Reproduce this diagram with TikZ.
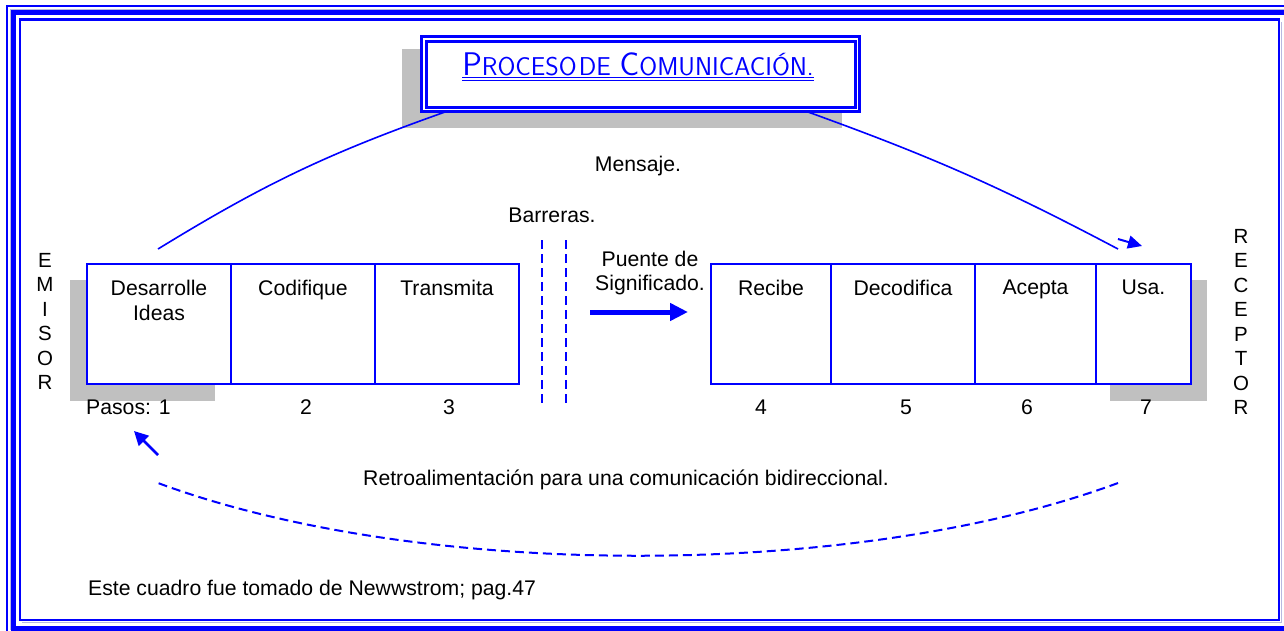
\documentclass[tikz,border=0pt]{standalone}
\usepackage{fontspec}
\setmainfont{Liberation Sans}
\usetikzlibrary{arrows.meta}
\definecolor{wblue}{HTML}{0000FF}
\definecolor{wgray}{HTML}{C0C0C0}
\definecolor{lgray}{HTML}{B8B8E0}
\newcommand\tbig[1]{{\fontsize{32.7}{32.7}\selectfont #1}}
\newcommand\tsml[1]{{\fontsize{25.8}{25.8}\selectfont #1}}
\begin{document}
\begin{tikzpicture}[x=1pt,y=-1pt,
  txt/.style={font=\fontsize{21.2}{24.5}\selectfont, inner sep=0pt, align=center},
  stepbox/.style={draw=wblue, line width=2pt, minimum height=120pt, inner sep=0pt, anchor=north west},
  shadowbox/.style={fill=wgray, draw=none, inner sep=0pt, anchor=north west},
  vlett/.style={font=\fontsize{20.5}{24.5}\selectfont, inner sep=0pt, align=center, anchor=north},
  dashline/.style={draw=wblue, line width=2pt, dash pattern=on 9pt off 5pt},
  conn/.style={draw=wblue, line width=1.6pt}
]
\useasboundingbox (0,0) rectangle (1284,630);
% page frame
\draw[wblue, line width=2.5pt] (7,6) rectangle (1300,645);
\draw[wblue, line width=5pt] (13,12.5) rectangle (1288,628);
\draw[wblue, line width=2.5pt] (20,19.5) rectangle (1279,620);
\draw[lgray, line width=1pt] (10,9.5) -- (1284,9.5);
\draw[lgray, line width=1pt] (10,9.5) -- (10,630);
\draw[lgray, line width=1pt] (1281.5,22) -- (1281.5,622.5) -- (22,622.5);

% title
\node[shadowbox, minimum width=440pt, minimum height=79pt] (tshadow) at (402,49) {};
\node[draw=wblue, fill=white, double=white, double distance=1.5pt, line width=3pt,
      minimum width=433.5pt, minimum height=70.5pt, inner sep=0pt, anchor=north west] (tbox) at (422.25,37.5) {};
\node[inner sep=0pt, anchor=base, text=wblue, font=\sffamily] (title) at (638,75)
  {\tbig{P}\tsml{ROCESO}\hspace{2pt}\tsml{DE}\hspace{9pt}\tbig{C}\tsml{OMUNICACIÓN.}};
\draw[wblue, line width=1pt] ([yshift=-2.5pt]title.base west) -- ([yshift=-2.5pt]title.base east);
\draw[wblue, line width=1pt] ([yshift=-5pt]title.base west) -- ([yshift=-5pt]title.base east);

% shadows
\node[shadowbox, minimum width=145pt, minimum height=121pt] (s1) at (70,280) {};
\node[shadowbox, minimum width=97pt, minimum height=121pt] (s7) at (1110,280) {};

% left boxes
\node[stepbox, minimum width=144pt, fill=white] (b1) at (86,263) {};
\node[stepbox, minimum width=144pt] (b2) at (230,263) {};
\node[stepbox, minimum width=144pt] (b3) at (374,263) {};
% right boxes
\node[stepbox, minimum width=120pt] (b4) at (710,263) {};
\node[stepbox, minimum width=144pt] (b5) at (830,263) {};
\node[stepbox, minimum width=121pt] (b6) at (974,263) {};
\node[stepbox, minimum width=95pt, fill=white] (b7) at (1095,263) {};

\node[txt, anchor=north] (t1) at ([yshift=-17pt]b1.north) {Desarrolle\\Ideas};
\node[txt, anchor=north] (t2) at ([yshift=-17pt]b2.north) {Codifique};
\node[txt, anchor=north] (t3) at ([yshift=-17pt]b3.north) {Transmita};
\node[txt, anchor=north] (t4) at ([yshift=-17pt]b4.north) {Recibe};
\node[txt, anchor=north] (t5) at ([yshift=-17pt]b5.north) {Decodifica};
\node[txt, anchor=north] (t6) at ([yshift=-17pt]b6.north) {Acepta};
\node[txt, anchor=north] (t7) at ([yshift=-17pt]b7.north) {Usa.};

% step numbers
\node[txt, anchor=west] (n1) at (86,407) {Pasos: 1};
\node[txt] (n2) at (306,407) {2};
\node[txt] (n3) at (449,407) {3};
\node[txt] (n4) at (761,407) {4};
\node[txt] (n5) at (906,407) {5};
\node[txt] (n6) at (1027,407) {6};
\node[txt] (n7) at (1146,407) {7};

% vertical labels
\node[vlett] (emisor) at (45,253) {E\\M\\I\\S\\O\\R};
\node[vlett] (receptor) at (1241,229) {R\\E\\C\\E\\P\\T\\O\\R};

% other texts
\node[txt] (mensaje) at (638,166) {Mensaje.};
\node[txt] (barreras) at (552,215) {Barreras.};
\node[txt] (puente) at (650,273) {Puente de\\Significado.};
\node[txt] (retro) at (626,480) {Retroalimentación para una comunicación bidireccional.};
\node[txt, anchor=west] (fuente) at (88,590) {Este cuadro fue tomado de Newwstrom; pag.47};

% barrier lines
\coordinate (bA1) at (542,240); \coordinate (bA2) at (542,403);
\coordinate (bB1) at (566,240); \coordinate (bB2) at (566,403);
\draw[dashline] (bA1) -- (bA2);
\draw[dashline] (bB1) -- (bB2);

% message arch
\coordinate (mL) at (158,249);
\coordinate (mLt) at (445,112);
\coordinate (mRt) at (808,112);
\coordinate (mR) at (1118,249);
\draw[conn] (mL) to[bend left=6] (mLt);
\draw[conn] (mRt) to[bend left=4] (mR);
\coordinate (aR1) at (1118,239);
\coordinate (aR2) at (1142,246);
\draw[wblue, line width=2pt, -{Triangle[length=14pt,width=13pt]}] (aR1) -- (aR2);

% bridge arrow
\coordinate (pA) at (590,312);
\coordinate (pB) at (688,312);
\draw[wblue, line width=5pt, -{Triangle[length=18pt,width=17pt]}] (pA) -- (pB);

% feedback
\coordinate (fL) at (158,483);
\coordinate (fR) at (1118,483);
\draw[dashline] (fR) .. controls (856,580) and (420,580) .. (fL);
\coordinate (aL1) at (158,455);
\coordinate (aL2) at (134,431);
\draw[wblue, line width=2.5pt, -{Triangle[length=14pt,width=14pt]}] (aL1) -- (aL2);
\end{tikzpicture}
\end{document}
